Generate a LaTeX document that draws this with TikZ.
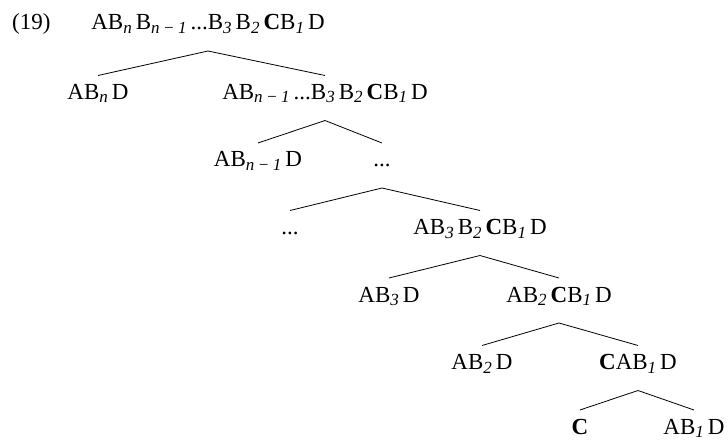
\documentclass[tikz,border=0pt]{standalone}
\usepackage{fontspec}
\setmainfont{Liberation Serif}
\usetikzlibrary{positioning,calc}

% subscript: italic, smaller, lowered, with a little room after it
\newcommand{\sbs}[1]{\raisebox{-3.5pt}{\fontsize{17}{17}\selectfont\itshape #1}\kern4pt}
\newcommand{\nmo}{n\kern3.5pt−\kern3.5pt1}

\tikzset{
  lbl/.style={inner sep=0pt, anchor=base, font=\fontsize{23}{27}\selectfont},
  branch/.style={line width=0.8pt}
}

\begin{document}
\begin{tikzpicture}[x=1pt,y=-1pt]
\useasboundingbox (0,0) rectangle (728,441);
% nodes
\node[lbl, anchor=base west] (ex) at (12,30) {(19)};
\node[lbl] (r) at (208,30) {AB\sbs{n}B\sbs{\nmo}...B\sbs{3}B\sbs{2}\textbf{C}B\sbs{1}D};
\node[lbl] (a1) at (98,99.5) {AB\sbs{n}D};
\node[lbl] (b1) at (325,99.5) {AB\sbs{\nmo}...B\sbs{3}B\sbs{2}\textbf{C}B\sbs{1}D};
\node[lbl] (a2) at (258,167) {AB\sbs{\nmo}D};
\node[lbl] (b2) at (382,167) {...};
\node[lbl] (a3) at (290,234.5) {...};
\node[lbl] (b3) at (480,234.5) {AB\sbs{3}B\sbs{2}\textbf{C}B\sbs{1}D};
\node[lbl] (a4) at (389,302) {AB\sbs{3}D};
\node[lbl] (b4) at (559,302) {AB\sbs{2}\textbf{C}B\sbs{1}D};
\node[lbl] (a5) at (482,369.5) {AB\sbs{2}D};
\node[lbl] (b5) at (638,369.5) {\textbf{C}AB\sbs{1}D};
\node[lbl] (a6) at (580,434) {\textbf{C}};
\node[lbl] (b6) at (694,434) {AB\sbs{1}D};

% edges
\foreach \mom/\lkid/\rkid in {r/a1/b1, b1/a2/b2, b2/a3/b3, b3/a4/b4, b4/a5/b5, b5/a6/b6}
  \draw[branch] ([yshift=24pt]\lkid.base) -- ([yshift=-21pt]\mom.base)
    -- ([yshift=24pt]\rkid.base);
\end{tikzpicture}
\end{document}
